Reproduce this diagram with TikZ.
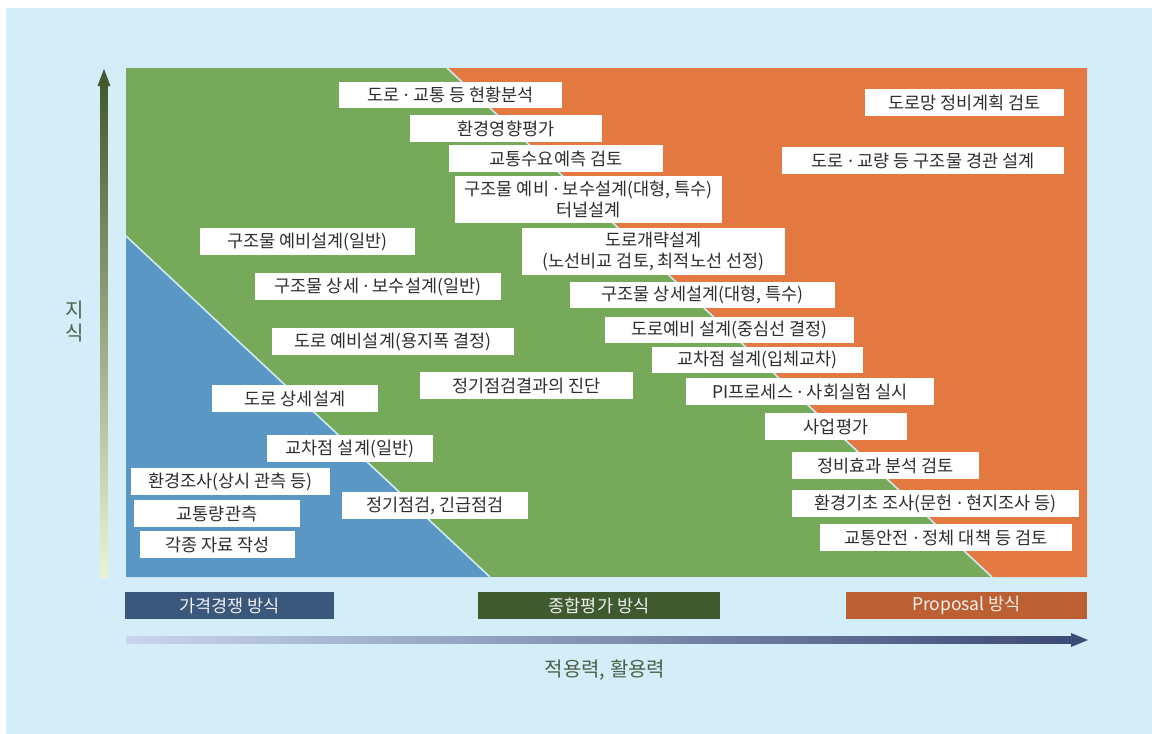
\documentclass[tikz,border=0pt]{standalone}
\usepackage{fontspec}
\setmainfont{Noto Sans CJK KR}
\newfontfamily\dotf{Noto Sans}
\newcommand{\md}{{\dotf\ ·\ }}
\definecolor{bgc}{HTML}{D3EEF9}
\definecolor{grn}{HTML}{76AA5A}
\definecolor{org}{HTML}{E37840}
\definecolor{blu}{HTML}{5B97C4}
\definecolor{divc}{HTML}{CDEAF4}
\definecolor{navy}{HTML}{3A577C}
\definecolor{dgrn}{HTML}{3F5A2F}
\definecolor{dorg}{HTML}{BC5F33}
\definecolor{txt}{HTML}{2E2E2E}
\definecolor{axc}{HTML}{4B6146}
\definecolor{ytop}{HTML}{435A30}
\definecolor{ybot}{HTML}{EEF2D4}
\definecolor{xlef}{HTML}{CAD4EC}
\definecolor{xrig}{HTML}{3A4B75}
\begin{document}
\begin{tikzpicture}[x=1pt,y=-1pt,
  wb/.style={fill=white, text=txt, inner sep=0pt, align=center,
    font=\fontsize{17.5}{21}\selectfont},
  lab/.style={text=white!94!black, inner sep=0pt,
    font=\fontsize{17.5}{20}\selectfont},
  axl/.style={text=axc, inner sep=0pt, font=\fontsize{20}{24}\selectfont}]
\useasboundingbox (0,0) rectangle (1152,734);
\fill[bgc] (6,8) rectangle (1152,734);
% regions
\fill[grn] (126,68) rectangle (1087,577);
\fill[org] (447,68) -- (1087,68) -- (1087,577) -- (992,577) -- cycle;
\fill[blu] (126,236) -- (490,577) -- (126,577) -- cycle;
\draw[divc, line width=1.6] (447,68) -- (992,577);
\draw[divc, line width=1.6] (126,236) -- (490,577);
% vertical axis
\shade[top color=ytop, bottom color=ybot] (100.5,84) rectangle (107.5,577);
\fill[ytop] (97.5,86) -- (104,69) -- (110.5,86) -- cycle;
\node[axl] (zi) at (75,310) {지};
\node[axl] (sik) at (75,333) {식};
% horizontal axis
\shade[left color=xlef, right color=xrig] (126,636.5) rectangle (1072,643.5);
\fill[xrig] (1071,633) -- (1088,640) -- (1071,647) -- cycle;
\node[axl] (xl) at (605,670) {적용력, 활용력};
% method boxes
\node[lab, fill=navy, minimum width=209pt, minimum height=27pt] (m1) at (229.5,605.5) {가격경쟁 방식};
\node[lab, fill=dgrn, minimum width=242pt, minimum height=27pt] (m2) at (599,605.5) {종합평가 방식};
\node[lab, fill=dorg, minimum width=241pt, minimum height=27pt] (m3) at (966.5,605.5) {Proposal 방식};
% white boxes
\node[wb, minimum width=223pt, minimum height=26pt] (b1) at (450.5,95) {도로\md 교통 등 현황분석};
\node[wb, minimum width=192pt, minimum height=27pt] (b2) at (506,128.5) {환경영향평가};
\node[wb, minimum width=214pt, minimum height=27pt] (b3) at (556,158.5) {교통수요예측 검토};
\node[wb, minimum width=267pt, minimum height=47pt] (b4) at (588.5,199.5) {구조물 예비\md 보수설계(대형, 특수)\\터널설계};
\node[wb, minimum width=199pt, minimum height=27pt] (b5) at (964.5,102.5) {도로망 정비계획 검토};
\node[wb, minimum width=282pt, minimum height=27pt] (b6) at (923,160.5) {도로\md 교량 등 구조물 경관 설계};
\node[wb, minimum width=215pt, minimum height=27pt] (b7) at (307.5,241.5) {구조물 예비설계(일반)};
\node[wb, minimum width=246pt, minimum height=27pt] (b8) at (378,286.5) {구조물 상세\md 보수설계(일반)};
\node[wb, minimum width=242pt, minimum height=27pt] (b9) at (393,341.5) {도로 예비설계(용지폭 결정)};
\node[wb, minimum width=213pt, minimum height=27pt] (b10) at (526.5,385.5) {정기점검결과의 진단};
\node[wb, minimum width=166pt, minimum height=27pt] (b11) at (295,398.5) {도로 상세설계};
\node[wb, minimum width=166pt, minimum height=27pt] (b12) at (350,448.5) {교차점 설계(일반)};
\node[wb, minimum width=199pt, minimum height=27pt] (b13) at (230.5,481.5) {환경조사(상시 관측 등)};
\node[wb, minimum width=166pt, minimum height=27pt] (b14) at (217,513.5) {교통량관측};
\node[wb, minimum width=155pt, minimum height=27pt] (b15) at (217.5,544.5) {각종 자료 작성};
\node[wb, minimum width=186pt, minimum height=27pt] (b16) at (435,505.5) {정기점검, 긴급점검};
\node[wb, minimum width=263pt, minimum height=47pt] (b25) at (653.5,251.5) {도로개략설계\\(노선비교 검토, 최적노선 선정)};
\node[wb, minimum width=265pt, minimum height=26pt] (b24) at (702.5,295) {구조물 상세설계(대형, 특수)};
\node[wb, minimum width=249pt, minimum height=26pt] (b23) at (729.5,330) {도로예비 설계(중심선 결정)};
\node[wb, minimum width=211pt, minimum height=26pt] (b17) at (757.5,360) {교차점 설계(입체교차)};
\node[wb, minimum width=248pt, minimum height=27pt] (b18) at (810,391.5) {PI프로세스\md 사회실험 실시};
\node[wb, minimum width=142pt, minimum height=27pt] (b19) at (836,426.5) {사업평가};
\node[wb, minimum width=187pt, minimum height=27pt] (b20) at (885.5,465.5) {정비효과 분석 검토};
\node[wb, minimum width=287pt, minimum height=27pt] (b21) at (935.5,503.5) {환경기초 조사(문헌\md 현지조사 등)};
\node[wb, minimum width=252pt, minimum height=27pt] (b22) at (946,537.5) {교통안전\md 정체 대책 등 검토};
\end{tikzpicture}
\end{document}
